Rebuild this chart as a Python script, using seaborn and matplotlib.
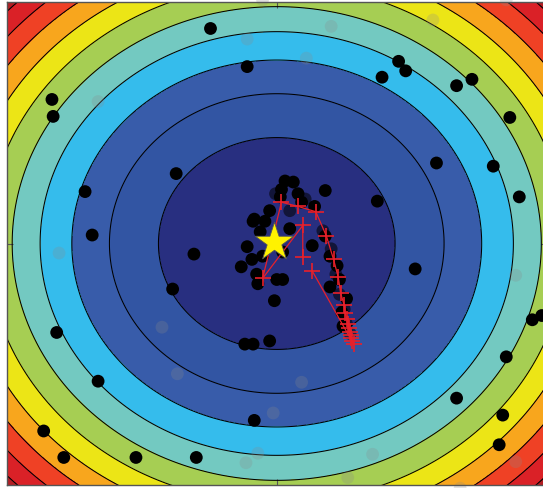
import numpy as np
import matplotlib
matplotlib.use("Agg")
import matplotlib.pyplot as plt
import seaborn as sns

# ---- data ----
band_colors = ["#282f80", "#3255a3", "#385caa", "#35bcec", "#73c9c1", "#a6ce53",
               "#ece516", "#f8a61d", "#ef4125", "#da2127", "#b31d23"]
contour_levels = list(range(0, 12))

pts_x = [-0.56, -0.25, -1.90, -1.89, 1.03, 1.09, 0.89, 1.52, 1.65, 1.97, 1.35, 1.83,
         2.05, -1.62, -1.56, -0.85, -0.70, -0.88, 0.85, 1.17, 0.41, -1.86, -1.51, 2.16,
         2.24, 1.94, 1.91, 1.52, 1.88, -1.97, -1.80, -1.19, -0.68, -0.19, -0.27, -0.20,
         -0.06, -0.02,
         0.07, 0.14, 0.04, 0.03, 0.18, 0.21, 0.32, -0.06, -0.20, -0.10, 0.11, -0.14,
         0.41, -0.25, 0.30, -0.12, -0.21, 0.05, -0.30, 0.45, 0.51, -0.17, 0.00, 0.05,
         -0.16, 0.45, 0.53, 0.55, 0.56, 0.59, -0.19]
pts_y = [2.03, 1.67, 1.36, 1.20, 1.72, 1.63, 1.57, 1.49, 1.55, 1.19, 0.76, 0.73,
         0.44, 0.49, 0.08, 0.66, -0.10, -0.43, 0.40, -0.24, 0.50, -0.84, -1.30, -0.72,
         -0.68, -1.07, -1.62, -1.46, -1.90, -1.77, -2.02, -2.02, -2.02, -1.67, -0.95, -0.95,
         -0.92, -0.54,
         0.59, 0.58, 0.51, 0.44, 0.47, 0.39, 0.35, 0.31, 0.21, 0.21, 0.14, 0.11,
         0.07, -0.03, -0.02, -0.12, -0.15, -0.08, -0.22, -0.12, -0.21, -0.29, -0.34, -0.34,
         -0.38, -0.41, -0.34, -0.65, -0.78, -0.52, 0.23]

shadow_x = [0.39, 0.46, 0.50, 0.53, 0.57, 0.59, 0.62, 0.24, 0.11, -0.01]
shadow_y = [0.12, -0.05, -0.29, -0.48, -0.62, -0.76, -0.85, 0.42, 0.31, 0.47]

faded_x = [-0.12, 1.94, -0.25, 0.25, 0.46, 1.32, -1.51, -1.84, 2.02, -0.97, -0.84,
           0.21, -0.03, -0.16, -0.26, 0.81, 0.60, 2.02, 1.55]
faded_y = [2.30, 2.30, 1.93, 1.75, 2.05, 2.11, 1.34, -0.09, -0.30, -0.79, -1.23,
           -1.31, -1.60, -1.98, -2.07, -1.99, -2.21, -2.06, -2.31]

path_x = [0.30, 0.65, 0.64, 0.63, 0.63, 0.62, 0.61, 0.60, 0.59, 0.58, 0.57, 0.54,
          0.52, 0.48, 0.42, 0.33, 0.18, 0.04, -0.12, 0.22, 0.22]
path_y = [-0.26, -0.95, -0.92, -0.89, -0.86, -0.84, -0.80, -0.76, -0.71, -0.66, -0.58,
          -0.47, -0.32, -0.15, 0.07, 0.30, 0.35, 0.39, -0.33, 0.17, -0.13]

star_x = [-0.02]
star_y = [0.01]

# ---- figure ----
sns.set_style("white")
fig = plt.figure(figsize=(5.43, 4.89), dpi=100)
ax = fig.add_axes([7 / 543, 3 / 489, 539.5 / 543, 483 / 489])

g = np.linspace(-2.5, 2.5, 700)
X, Y = np.meshgrid(g, g)
Z = X ** 2 + Y ** 2
ax.contourf(X, Y, Z, levels=contour_levels, colors=band_colors, zorder=0)
ax.contour(X, Y, Z, levels=contour_levels[1:], colors="k", linewidths=0.75, zorder=1)

sns.scatterplot(x=faded_x, y=faded_y, color="#8a8a8a", alpha=0.25, s=85,
                edgecolor="none", ax=ax, clip_on=False, zorder=2)
sns.scatterplot(x=shadow_x, y=shadow_y, color="black", alpha=0.55, s=85,
                edgecolor="none", ax=ax, zorder=3)
sns.scatterplot(x=pts_x, y=pts_y, color="black", s=85, edgecolor="none", ax=ax, zorder=4)
sns.lineplot(x=path_x, y=path_y, sort=False, estimator=None, color="#e8202a",
             linewidth=0.9, marker="+", markersize=12, markeredgewidth=1.2,
             markeredgecolor="#e8202a", ax=ax, zorder=5)
sns.scatterplot(x=star_x, y=star_y, marker="*", s=850, color="#fff200",
                edgecolor="#555555", linewidth=0.6, ax=ax, zorder=6)

ax.set_xlim(-2.28, 2.28)
ax.set_ylim(-2.28, 2.28)
ax.set_xticks([0])
ax.set_yticks([0])
ax.set_xlabel("")
ax.set_ylabel("")
ax.tick_params(direction="in", length=4, width=0.8, color="#555555",
               top=True, right=True, bottom=True, left=True,
               labelbottom=False, labelleft=False)
for sp in ax.spines.values():
    sp.set_color("#555555")
    sp.set_linewidth(1.0)

fig.savefig("out.png", dpi=100)
